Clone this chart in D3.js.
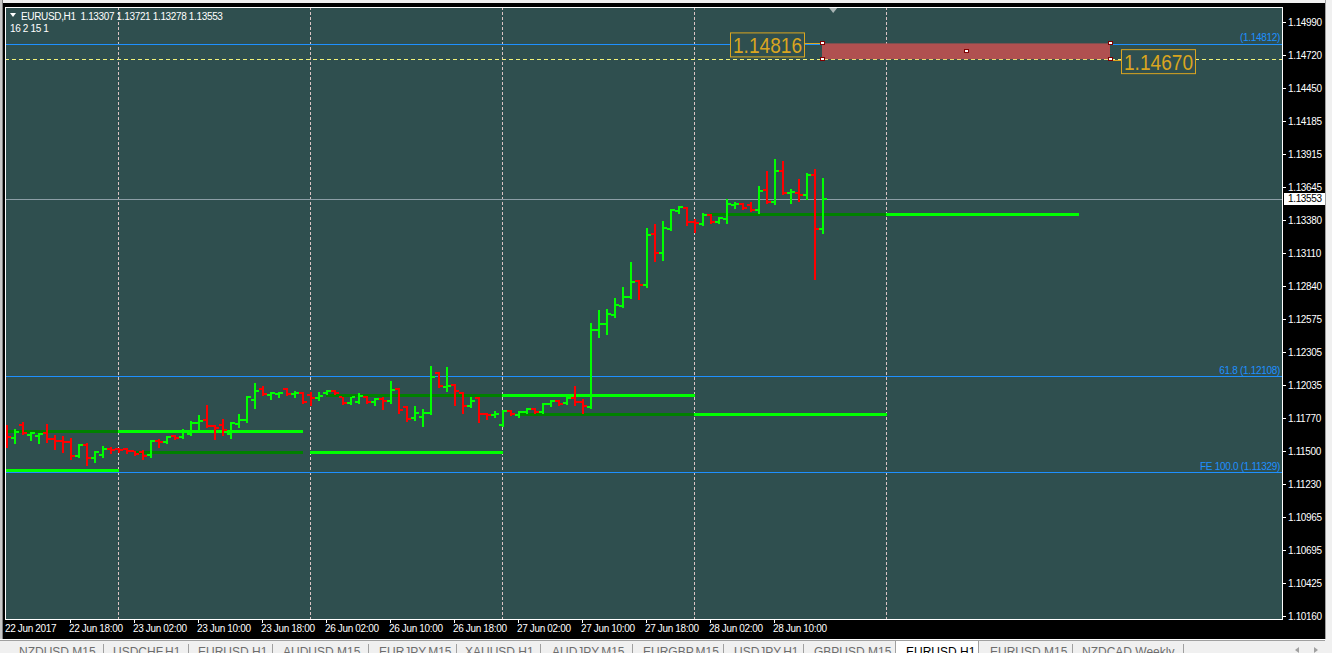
<!DOCTYPE html>
<html>
<head>
<meta charset="utf-8">
<script src="https://cdn.jsdelivr.net/npm/d3@7"></script>
<style>
  html, body { margin: 0; padding: 0; background: #000; overflow: hidden; }
  svg { display: block; }
  text { font-family: "Liberation Sans", Arial, sans-serif; }
</style>
</head>
<body>
<div id="chart"></div>
<script>
// header
const symbolTitle = "EURUSD,H1";
const headerValues = ["1.13307", "1.13721", "1.13278", "1.13553"];
const subTitle = "16 2 15 1";

// EURUSD H1 bars, first bar = 22 Jun 2017 10:00
const opens = [
  1.11697, 1.11608, 1.11713, 1.11632, 1.11624, 1.11649, 1.11600, 1.11583, 1.11575, 1.11461,
  1.11551, 1.11445, 1.11469, 1.11518, 1.11518, 1.11518, 1.11502, 1.11494, 1.11469, 1.11583,
  1.11575, 1.11624, 1.11616, 1.11640, 1.11730, 1.11754, 1.11705, 1.11713, 1.11640, 1.11722,
  1.11754, 1.11917, 1.12006, 1.11957, 1.11966, 1.12006, 1.11966, 1.11974, 1.11957, 1.11933,
  1.11974, 1.11990, 1.11941, 1.11892, 1.11900, 1.11941, 1.11900, 1.11925, 1.11909, 1.12006,
  1.11860, 1.11770, 1.11778, 1.11811, 1.12136, 1.12023, 1.12039, 1.11974, 1.11868, 1.11933,
  1.11803, 1.11795, 1.11713, 1.11827, 1.11795, 1.11819, 1.11843, 1.11819, 1.11884, 1.11909,
  1.11892, 1.11933, 1.11900, 1.11860, 1.12486, 1.12535, 1.12608, 1.12681, 1.12754, 1.12884,
  1.12852, 1.13266, 1.13112, 1.13307, 1.13453, 1.13478, 1.13364, 1.13348, 1.13421, 1.13364,
  1.13388, 1.13502, 1.13510, 1.13502, 1.13461, 1.13624, 1.13526, 1.13779, 1.13600, 1.13600,
  1.13583, 1.13746, 1.13307
];
const highs = [
  1.11713, 1.11681, 1.11738, 1.11657, 1.11649, 1.11722, 1.11632, 1.11624, 1.11608, 1.11559,
  1.11567, 1.11502, 1.11543, 1.11534, 1.11526, 1.11526, 1.11502, 1.11510, 1.11591, 1.11600,
  1.11624, 1.11632, 1.11681, 1.11746, 1.11795, 1.11876, 1.11713, 1.11762, 1.11738, 1.11803,
  1.11949, 1.12055, 1.12031, 1.11982, 1.11982, 1.12014, 1.11990, 1.11982, 1.11982, 1.11982,
  1.11998, 1.11998, 1.11941, 1.11941, 1.11974, 1.11949, 1.11933, 1.11941, 1.12071, 1.12014,
  1.11868, 1.11868, 1.11843, 1.12193, 1.12144, 1.12185, 1.12047, 1.11982, 1.11941, 1.11941,
  1.11811, 1.11827, 1.11835, 1.11835, 1.11827, 1.11852, 1.11852, 1.11892, 1.11917, 1.11917,
  1.11941, 1.12031, 1.11925, 1.12543, 1.12648, 1.12656, 1.12746, 1.12835, 1.13039, 1.12892,
  1.13315, 1.13348, 1.13372, 1.13469, 1.13494, 1.13486, 1.13388, 1.13437, 1.13429, 1.13405,
  1.13551, 1.13526, 1.13518, 1.13526, 1.13657, 1.13779, 1.13876, 1.13860, 1.13632, 1.13714,
  1.13762, 1.13795, 1.13721
];
const lows = [
  1.11534, 1.11567, 1.11640, 1.11591, 1.11567, 1.11575, 1.11518, 1.11494, 1.11437, 1.11453,
  1.11388, 1.11413, 1.11453, 1.11486, 1.11494, 1.11486, 1.11469, 1.11437, 1.11453, 1.11534,
  1.11567, 1.11600, 1.11608, 1.11632, 1.11673, 1.11697, 1.11600, 1.11632, 1.11608, 1.11697,
  1.11738, 1.11852, 1.11957, 1.11925, 1.11941, 1.11957, 1.11941, 1.11892, 1.11876, 1.11917,
  1.11966, 1.11966, 1.11884, 1.11884, 1.11892, 1.11892, 1.11876, 1.11843, 1.11892, 1.11811,
  1.11746, 1.11754, 1.11705, 1.11803, 1.12023, 1.11990, 1.11876, 1.11811, 1.11860, 1.11738,
  1.11762, 1.11778, 1.11705, 1.11795, 1.11778, 1.11811, 1.11811, 1.11811, 1.11868, 1.11876,
  1.11884, 1.11876, 1.11811, 1.11852, 1.12429, 1.12453, 1.12592, 1.12673, 1.12746, 1.12738,
  1.12835, 1.13047, 1.13055, 1.13299, 1.13437, 1.13340, 1.13283, 1.13340, 1.13356, 1.13356,
  1.13356, 1.13478, 1.13469, 1.13453, 1.13437, 1.13518, 1.13510, 1.13592, 1.13518, 1.13535,
  1.13551, 1.12900, 1.13278
];
const closes = [
  1.11616, 1.11657, 1.11649, 1.11649, 1.11640, 1.11600, 1.11583, 1.11575, 1.11461, 1.11551,
  1.11445, 1.11494, 1.11518, 1.11510, 1.11510, 1.11502, 1.11478, 1.11461, 1.11583, 1.11575,
  1.11616, 1.11608, 1.11665, 1.11730, 1.11746, 1.11705, 1.11689, 1.11673, 1.11730, 1.11754,
  1.11941, 1.11990, 1.11966, 1.11974, 1.11974, 1.11966, 1.11974, 1.11900, 1.11933, 1.11949,
  1.11990, 1.11974, 1.11892, 1.11941, 1.11949, 1.11900, 1.11925, 1.11909, 1.11998, 1.11835,
  1.11762, 1.11811, 1.11811, 1.12104, 1.12031, 1.12031, 1.11990, 1.11868, 1.11909, 1.11803,
  1.11795, 1.11803, 1.11827, 1.11803, 1.11819, 1.11843, 1.11819, 1.11884, 1.11909, 1.11884,
  1.11933, 1.11900, 1.11868, 1.12486, 1.12535, 1.12616, 1.12689, 1.12754, 1.12876, 1.12852,
  1.13258, 1.13112, 1.13315, 1.13461, 1.13486, 1.13364, 1.13356, 1.13421, 1.13364, 1.13397,
  1.13510, 1.13510, 1.13478, 1.13461, 1.13616, 1.13526, 1.13779, 1.13600, 1.13608, 1.13583,
  1.13746, 1.13307, 1.13553
];

// time axis
const timeLabelBars = [0, 8, 16, 24, 32, 40, 48, 56, 64, 72, 80, 88, 96];
const timeLabels = ["22 Jun 2017", "22 Jun 18:00", "23 Jun 02:00", "23 Jun 10:00", "23 Jun 18:00",
  "26 Jun 02:00", "26 Jun 10:00", "26 Jun 18:00", "27 Jun 02:00", "27 Jun 10:00",
  "27 Jun 18:00", "28 Jun 02:00", "28 Jun 10:00"];
const daySeparatorBars = [14, 38, 62, 86, 110];

// price axis
const priceTicks = ["1.14990", "1.14720", "1.14450", "1.14185", "1.13915", "1.13645", "1.13380",
  "1.13110", "1.12840", "1.12575", "1.12305", "1.12035", "1.11770", "1.11500", "1.11230",
  "1.10965", "1.10695", "1.10425", "1.10160"];
const currentPrice = 1.13553;

// objects
const blueLevels = [1.14812, 1.12108, 1.11329];
const blueLabels = ["(1.14812)", "61.8 (1.12108)", "FE 100.0 (1.11329)"];
const zonePrices = [1.14816, 1.14688];
const zoneBars = [102, 138];
const zoneLabels = ["1.14816", "1.14670"];

// daily level indicator: [fromBar, toBar, price]
const brightLevels = [[-1, 14, 1.11348], [14, 37, 1.11665], [38, 62, 1.11494],
  [62, 86, 1.11957], [86, 110, 1.11803], [110, 134, 1.13429]];
const darkLevels = [[-1, 14, 1.11665], [16, 37, 1.11494], [40, 62, 1.11957],
  [64, 86, 1.11803], [88, 110, 1.13429]];

const tabNames = ["NZDUSD,M15", "USDCHF,H1", "EURUSD,H1", "AUDUSD,M15", "EURJPY,M15", "XAUUSD,H1",
  "AUDJPY,M15", "EURGBP,M15", "USDJPY,H1", "GBPUSD,M15", "EURUSD,H1", "EURUSD,M15", "NZDCAD,Weekly"];
const activeTab = 10;

// ---- layout ----
const W = 1332, H = 653;
const plot = { left: 5, top: 7, right: 1282, bottom: 619 };
const tabTextX = [19, 113, 198, 283, 379, 465, 552, 643, 734, 814, 906, 990, 1082];
const tabSepX = [103, 188, 272, 368, 456, 540, 632, 723, 803, 1072, 1183];
const shiftBar = 103.4;

const x = d3.scaleLinear().domain([0, 100]).range([6, 806]);
const y = d3.scaleLinear().domain([1.10136, 1.15112]).range([plot.bottom, plot.top]);

const bars = opens.map((o, i) => ({ i, o, h: highs[i], l: lows[i], c: closes[i] }));

const svg = d3.select("#chart").append("svg")
  .attr("width", W).attr("height", H);

// window chrome
svg.append("rect").attr("width", W).attr("height", H).attr("fill", "#000");
svg.append("rect").attr("width", W).attr("height", 3).attr("fill", "#f0f0f0");
svg.append("rect").attr("x", 0).attr("width", 2).attr("height", 640).attr("fill", "#c8c8c8");
svg.append("rect").attr("x", 2).attr("width", 1).attr("height", 640).attr("fill", "#808080");
svg.append("rect").attr("x", 1325).attr("width", 7).attr("height", H).attr("fill", "#f0f0f0");
svg.append("line").attr("x1", 1325.5).attr("x2", 1325.5).attr("y1", 0).attr("y2", 640)
  .attr("stroke", "#a0a0a0");

// plot background
svg.append("rect")
  .attr("x", plot.left).attr("y", plot.top)
  .attr("width", plot.right - plot.left).attr("height", plot.bottom - plot.top)
  .attr("fill", "#2f4f4f");

svg.append("clipPath").attr("id", "clip").append("rect")
  .attr("x", plot.left + 1).attr("y", plot.top + 1)
  .attr("width", plot.right - plot.left - 1).attr("height", plot.bottom - plot.top - 1);

const g = svg.append("g").attr("clip-path", "url(#clip)");
const px = v => Math.round(v) + 0.5;

// day separators
g.selectAll(".sep").data(daySeparatorBars).join("line")
  .attr("x1", d => px(x(d))).attr("x2", d => px(x(d)))
  .attr("y1", plot.top).attr("y2", plot.bottom)
  .attr("stroke", "#dcc4c4").attr("stroke-dasharray", "3,2");

// blue levels
g.selectAll(".blue").data(blueLevels).join("line")
  .attr("x1", plot.left).attr("x2", plot.right)
  .attr("y1", d => px(y(d))).attr("y2", d => px(y(d)))
  .attr("stroke", "#1e90ff");
g.selectAll(".blueLabel").data(blueLabels).join("text")
  .attr("x", plot.right - 2)
  .attr("y", (d, i) => y(blueLevels[i]) - 2.5)
  .attr("text-anchor", "end")
  .attr("fill", "#1e90ff")
  .style("font-size", "10px").style("letter-spacing", "-0.3px")
  .text(d => d);

// zone bottom dashed line
g.append("line")
  .attr("x1", plot.left).attr("x2", plot.right)
  .attr("y1", px(y(zonePrices[1]))).attr("y2", px(y(zonePrices[1])))
  .attr("stroke", "#f2f27a").attr("stroke-dasharray", "4,3");

// current price line
g.append("line")
  .attr("x1", plot.left).attr("x2", plot.right)
  .attr("y1", px(y(currentPrice))).attr("y2", px(y(currentPrice)))
  .attr("stroke", "#8c9ea6");

// daily levels
function drawLevels(data, color) {
  g.append("g").selectAll("rect").data(data).join("rect")
    .attr("x", d => x(d[0]))
    .attr("width", d => x(d[1]) - x(d[0]) + 1)
    .attr("y", d => Math.round(y(d[2])) - 1)
    .attr("height", 3)
    .attr("fill", color);
}
drawLevels(darkLevels, "#008000");
drawLevels(brightLevels, "#00ff00");

// OHLC bars
const barG = g.append("g").selectAll("g").data(bars).join("g")
  .attr("fill", d => d.c >= d.o ? "#00ff00" : "#ff0000");
barG.append("rect")
  .attr("x", d => x(d.i)).attr("width", 2)
  .attr("y", d => Math.round(y(d.h)))
  .attr("height", d => Math.max(2, Math.round(y(d.l)) - Math.round(y(d.h)) + 1));
barG.append("rect")
  .attr("x", d => x(d.i) - 3).attr("width", 3)
  .attr("y", d => Math.round(y(d.o)) - 1).attr("height", 2);
barG.append("rect")
  .attr("x", d => x(d.i) + 2).attr("width", 3)
  .attr("y", d => Math.round(y(d.c)) - 1).attr("height", 2);

// zone rectangle
const zx0 = x(zoneBars[0]), zx1 = x(zoneBars[1]);
const zy0 = y(zonePrices[0]), zy1 = y(zonePrices[1]);
g.append("rect")
  .attr("x", zx0).attr("y", zy0)
  .attr("width", zx1 - zx0).attr("height", zy1 - zy0)
  .attr("fill", "#b05050");

// price label boxes
const boxes = [
  { text: zoneLabels[0], x: zx0 - 92, y: zy0 - 11, lx1: zx0 - 17, lx2: zx0, ly: zy0 },
  { text: zoneLabels[1], x: zx1 + 11, y: zy1 - 10, lx1: zx1, lx2: zx1 + 11, ly: zy1 + 1 }
];
boxes.forEach(b => {
  g.append("line").attr("x1", b.lx1).attr("x2", b.lx2)
    .attr("y1", px(b.ly)).attr("y2", px(b.ly)).attr("stroke", "#daa520");
  g.append("rect").attr("x", b.x + 0.5).attr("y", b.y + 0.5)
    .attr("width", 74).attr("height", 24)
    .attr("fill", "#2f4f4f").attr("stroke", "#daa520");
  g.append("text").attr("x", b.x + 3).attr("y", b.y + 21)
    .attr("fill", "#daa520")
    .attr("textLength", 69).attr("lengthAdjust", "spacingAndGlyphs")
    .style("font-size", "22px")
    .text(b.text);
});

// handles
const handles = [[zx0, zy0], [zx1, zy0], [zx0, zy1], [zx1, zy1], [(zx0 + zx1) / 2, (zy0 + zy1) / 2]];
g.selectAll(".handle").data(handles).join("rect")
  .attr("x", d => Math.round(d[0]) - 2 + 0.5).attr("y", d => Math.round(d[1]) - 2 + 0.5)
  .attr("width", 4).attr("height", 3)
  .attr("fill", "#fff").attr("stroke", "#800000");

// chart shift marker
const sx = x(shiftBar);
g.append("path")
  .attr("d", `M${sx - 4},${plot.top + 1}L${sx + 4},${plot.top + 1}L${sx},${plot.top + 6}Z`)
  .attr("fill", "#a8b4b4");

// header
const header = svg.append("g");
header.append("path").attr("d", "M10,13L16,13L13,17Z").attr("fill", "#fff");
header.append("text").attr("x", 21).attr("y", 19.5)
  .attr("fill", "#fff").style("font-size", "10px").style("letter-spacing", "-0.35px")
  .attr("xml:space", "preserve")
  .text(symbolTitle + "  " + headerValues.join(" "));
header.append("text").attr("x", 10).attr("y", 32)
  .attr("fill", "#fff").style("font-size", "10px").style("letter-spacing", "-0.35px")
  .text(subTitle);

// plot border
svg.append("rect")
  .attr("x", plot.left + 0.5).attr("y", plot.top + 0.5)
  .attr("width", plot.right - plot.left).attr("height", plot.bottom - plot.top)
  .attr("fill", "none").attr("stroke", "#fff");

// price axis
const pAxis = svg.append("g");
pAxis.selectAll("line").data(priceTicks).join("line")
  .attr("x1", plot.right).attr("x2", plot.right + 4)
  .attr("y1", d => px(y(+d))).attr("y2", d => px(y(+d)))
  .attr("stroke", "#fff");
pAxis.selectAll("text").data(priceTicks).join("text")
  .attr("x", plot.right + 6).attr("y", d => y(+d) + 3.5)
  .attr("fill", "#fff").style("font-size", "10px").style("letter-spacing", "-0.35px")
  .text(d => d);
pAxis.append("rect")
  .attr("x", plot.right + 2).attr("y", Math.round(y(currentPrice)) - 6)
  .attr("width", 41).attr("height", 12).attr("fill", "#fff");
pAxis.append("text")
  .attr("x", plot.right + 6).attr("y", y(currentPrice) + 3.5)
  .attr("fill", "#000").style("font-size", "10px").style("letter-spacing", "-0.35px")
  .text(d3.format(".5f")(currentPrice));

// time axis
const tAxis = svg.append("g");
tAxis.selectAll("line").data(timeLabelBars.slice(1)).join("line")
  .attr("x1", d => px(x(d))).attr("x2", d => px(x(d)))
  .attr("y1", plot.bottom).attr("y2", plot.bottom + 4)
  .attr("stroke", "#fff");
tAxis.selectAll("text").data(timeLabels).join("text")
  .attr("x", (d, i) => i === 0 ? plot.left : x(timeLabelBars[i]) - 1)
  .attr("y", 632)
  .attr("fill", "#fff").style("font-size", "10px").style("letter-spacing", "-0.35px")
  .text(d => d);

// tabs
const tabs = svg.append("g");
tabs.append("rect").attr("x", 0).attr("y", 639).attr("width", W).attr("height", 14).attr("fill", "#f0f0f0");
tabs.append("line").attr("x1", 0).attr("x2", 1325).attr("y1", 639.5).attr("y2", 639.5).attr("stroke", "#fff");
tabs.append("line").attr("x1", 0).attr("x2", 1325).attr("y1", 640.5).attr("y2", 640.5).attr("stroke", "#a0a0a0");
tabs.append("rect").attr("x", 895.5).attr("y", 640.5).attr("width", 83).attr("height", 14)
  .attr("fill", "#fff").attr("stroke", "#a0a0a0");
tabs.selectAll("line.sep").data(tabSepX).join("line")
  .attr("x1", d => d + 0.5).attr("x2", d => d + 0.5)
  .attr("y1", 644).attr("y2", 653).attr("stroke", "#a0a0a0");
tabs.selectAll("text").data(tabNames).join("text")
  .attr("x", (d, i) => tabTextX[i]).attr("y", 655.5)
  .attr("fill", (d, i) => i === activeTab ? "#000" : "#6d6d6d")
  .style("font-size", "12px")
  .text(d => d);
tabs.append("path").attr("d", "M1299,647L1299,653L1295,650Z").attr("fill", "#a0a0a0");
tabs.append("path").attr("d", "M1314,647L1314,653L1318,650Z").attr("fill", "#a0a0a0");
</script>
</body>
</html>
